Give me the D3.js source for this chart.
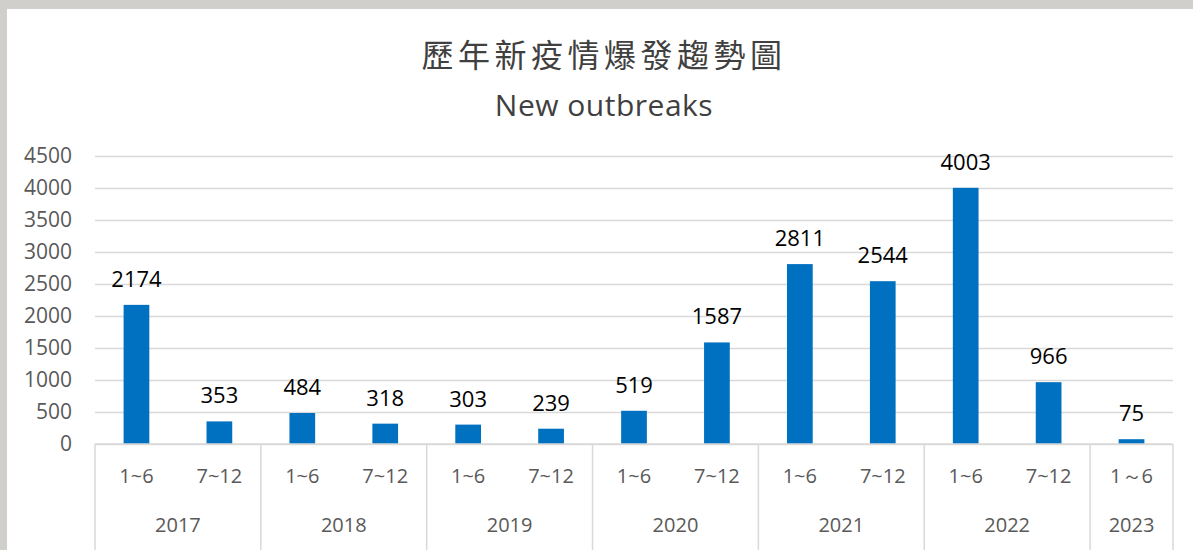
<!DOCTYPE html>
<html>
<head>
<meta charset="utf-8">
<script src="https://cdn.jsdelivr.net/npm/d3@7"></script>
<style>
    html, body { margin: 0; padding: 0; background: #d0cfcb; }
    svg { display: block; }
</style>
</head>
<body>
<svg id="chart"></svg>
<script>
// 歷年新疫情爆發趨勢圖 / New outbreaks

const periods = ["1~6", "7~12", "1~6", "7~12", "1~6", "7~12", "1~6", "7~12", "1~6", "7~12", "1~6", "7~12", "1～6"]
const years = ["2017", "2017", "2018", "2018", "2019", "2019", "2020", "2020", "2021", "2021", "2022", "2022", "2023"]
const outbreaks = [2174, 353, 484, 318, 303, 239, 519, 1587, 2811, 2544, 4003, 966, 75]
const yTicks = [0, 500, 1000, 1500, 2000, 2500, 3000, 3500, 4000, 4500]

let svgWidth = 1193
let svgHeight = 550
let margin = { left: 95, right: 20, top: 156, bottom: 106 }
let chartWidth = svgWidth - margin.left - margin.right
let chartHeight = svgHeight - margin.top - margin.bottom

const labelFont = "'Open Sans', 'Liberation Sans', sans-serif"
const axisColor = "#595959"
const gridColor = "#d9d9d9"

const svg = d3.select("#chart")
    .attr("width", svgWidth)
    .attr("height", svgHeight)

// white chart area inside the grey frame
svg.append("rect")
    .attr("x", 7).attr("y", 9)
    .attr("width", svgWidth - 7).attr("height", svgHeight - 9)
    .attr("fill", "#ffffff")

// titles
svg.append("text")
    .attr("x", 604).attr("y", 67)
    .attr("text-anchor", "middle")
    .style("font-family", "'Noto Sans CJK TC', sans-serif")
    .style("font-size", "32px")
    .style("letter-spacing", "4.5px")
    .style("fill", "#404040")
    .text("歷年新疫情爆發趨勢圖")

svg.append("text")
    .attr("x", 604).attr("y", 116)
    .attr("text-anchor", "middle")
    .style("font-family", labelFont)
    .style("font-size", "30px")
    .style("letter-spacing", "0.5px")
    .style("fill", "#404040")
    .text("New outbreaks")

const g = svg.append("g")
    .attr("transform", `translate(${margin.left}, ${margin.top})`)

const x = d3.scaleBand()
    .domain(d3.range(outbreaks.length))
    .range([0, chartWidth])
    .paddingInner(0.69)
    .paddingOuter(0.345)

const y = d3.scaleLinear()
    .domain([0, 4500])
    .range([chartHeight, 0])

// y axis with gridlines
const yAxis = g.append("g")
    .call(d3.axisLeft(y)
        .tickValues(yTicks)
        .tickFormat(d3.format("d"))
        .tickSizeInner(-chartWidth)
        .tickSizeOuter(0)
        .tickPadding(23))

yAxis.select(".domain").remove()
yAxis.selectAll("line").style("stroke", gridColor).style("stroke-width", 1.5)
yAxis.selectAll("text")
    .style("font-family", labelFont)
    .style("font-size", "21px")
    .style("fill", axisColor)

// bars
g.selectAll(".bar")
    .data(outbreaks)
    .enter()
    .append("rect")
    .attr("class", "bar")
    .attr("x", (d, i) => x(i))
    .attr("width", x.bandwidth())
    .attr("y", d => y(d))
    .attr("height", d => chartHeight - y(d))
    .attr("fill", "#0070c0")

// value labels
g.selectAll(".value")
    .data(outbreaks)
    .enter()
    .append("text")
    .attr("class", "value")
    .attr("x", (d, i) => x(i) + x.bandwidth() / 2)
    .attr("y", d => y(d) - 18)
    .attr("text-anchor", "middle")
    .style("font-family", labelFont)
    .style("font-size", "22px")
    .style("fill", "#000000")
    .text(d => d)

// multi-level category axis
const step = x.step()
const groups = []
years.forEach((yr, i) => {
    let last = groups[groups.length - 1]
    if (last && last.year == yr) last.end = i
    else groups.push({ year: yr, start: i, end: i })
})

const axisG = g.append("g").attr("transform", `translate(0, ${chartHeight})`)

axisG.append("line")
    .attr("x1", 0).attr("x2", chartWidth)
    .attr("y1", 0).attr("y2", 0)
    .style("stroke", gridColor).style("stroke-width", 1.5)

const bounds = groups.map(d => d.start).concat([outbreaks.length])
axisG.selectAll(".sep")
    .data(bounds)
    .enter()
    .append("line")
    .attr("class", "sep")
    .attr("x1", d => d * step).attr("x2", d => d * step)
    .attr("y1", 0).attr("y2", svgHeight)
    .style("stroke", gridColor).style("stroke-width", 1.5)

axisG.selectAll(".period")
    .data(periods)
    .enter()
    .append("text")
    .attr("class", "period")
    .attr("x", (d, i) => x(i) + x.bandwidth() / 2)
    .attr("y", 39)
    .attr("text-anchor", "middle")
    .style("font-family", labelFont)
    .style("font-size", "20px")
    .style("fill", axisColor)
    .text(d => d)

axisG.selectAll(".year")
    .data(groups)
    .enter()
    .append("text")
    .attr("class", "year")
    .attr("x", d => (d.start + d.end + 1) / 2 * step)
    .attr("y", 88)
    .attr("text-anchor", "middle")
    .style("font-family", labelFont)
    .style("font-size", "20px")
    .style("fill", axisColor)
    .text(d => d.year)
</script>
</body>
</html>
